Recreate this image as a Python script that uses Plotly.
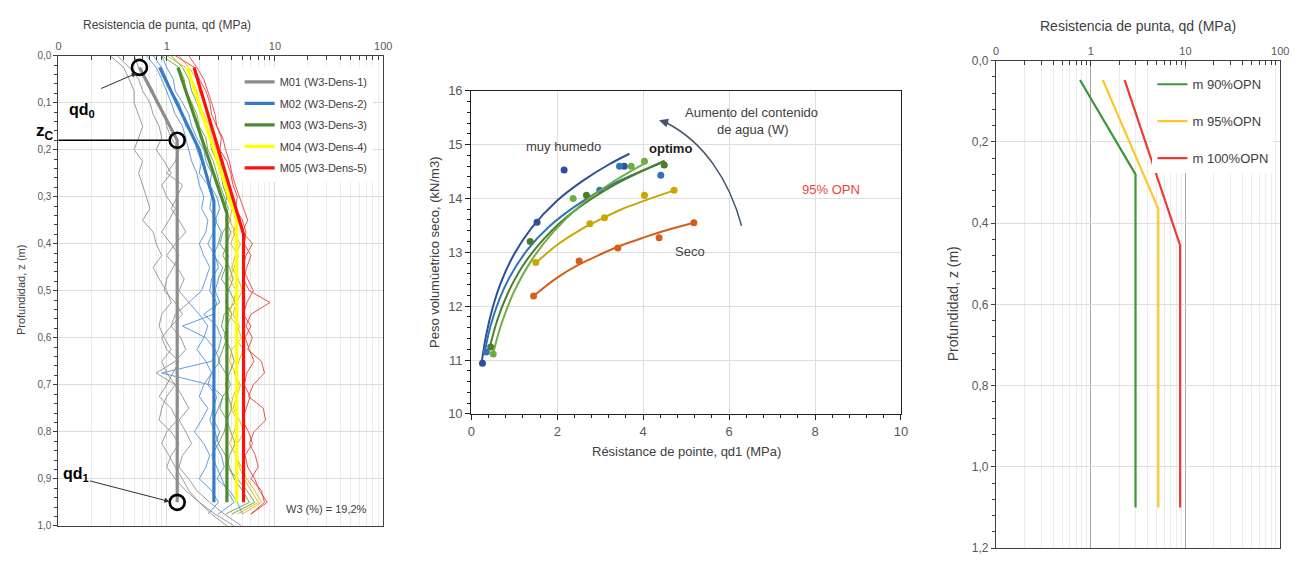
import math
import plotly.graph_objects as go

W, H = 1307, 565
FONT = "Liberation Sans, Arial, sans-serif"
TXT = "#404040"
TICK = "#595959"

# ---------------- Panel 1: dynamic penetrometer profiles (W3 = 19,2 %) ----------------
SERIES_NAMES = ["M01 (W3-Dens-1)", "M02 (W3-Dens-2)", "M03 (W3-Dens-3)",
                "M04 (W3-Dens-4)", "M05 (W3-Dens-5)"]

Z_RAW = [0.0, 0.025, 0.05, 0.075, 0.1, 0.125, 0.15, 0.175, 0.2, 0.225,
         0.25, 0.275, 0.3, 0.325, 0.35, 0.375, 0.4, 0.425, 0.45, 0.475,
         0.5, 0.525, 0.55, 0.575, 0.6, 0.625, 0.65, 0.675, 0.7, 0.725,
         0.75, 0.775, 0.8, 0.825, 0.85, 0.875, 0.9, 0.925, 0.95, 0.975, 1.0]

# individual soundings (qd, MPa) along Z_RAW
RAW_M01 = [
    [0.35, 0.45, 0.55, 0.6, 0.7, 0.75, 0.85, 0.9, 0.8, 0.95, 1.1, 0.9, 1.0, 1.2, 1.05, 0.9, 1.1, 1.3, 1.15, 1.0,
     0.95, 1.2, 1.4, 1.1, 0.9, 1.0, 1.3, 1.15, 1.0, 0.85, 1.1, 1.25, 1.0, 0.9, 1.05, 1.2, 1.4, 1.6, 2.0, 2.6, 3.6],
    [0.5, 0.55, 0.65, 0.75, 0.8, 0.95, 1.0, 1.1, 1.3, 1.2, 1.0, 1.4, 1.25, 1.1, 1.3, 1.5, 1.2, 1.0, 1.25, 1.45,
     1.3, 1.6, 1.2, 1.1, 1.35, 1.5, 1.2, 0.8, 1.2, 1.4, 1.6, 1.3, 1.5, 1.7, 1.4, 1.3, 1.6, 1.9, 2.5, 3.4, 4.9],
    [0.3, 0.4, 0.45, 0.5, 0.5, 0.55, 0.6, 0.55, 0.5, 0.6, 0.55, 0.6, 0.65, 0.7, 0.6, 0.75, 0.8, 0.9, 0.75, 0.85,
     1.0, 1.1, 0.9, 0.85, 0.95, 1.1, 0.9, 1.0, 1.2, 1.0, 0.9, 0.85, 1.1, 1.3, 1.1, 1.0, 1.2, 1.5, 2.0, 2.8, 4.2],
]
RAW_M02 = [
    [0.75, 0.9, 1.0, 1.1, 1.3, 1.4, 1.5, 1.8, 1.9, 2.1, 2.0, 2.4, 2.6, 2.5, 2.9, 2.7, 2.4, 2.8, 3.0, 2.6,
     2.5, 2.9, 2.7, 1.4, 2.3, 2.8, 3.1, 2.6, 2.4, 2.9, 2.7, 2.5, 2.8, 3.0, 2.6, 2.9, 3.2, 3.6, 4.2, 3.0],
    [0.9, 1.0, 1.15, 1.2, 1.4, 1.6, 1.7, 1.9, 2.2, 2.3, 2.6, 2.5, 2.9, 3.1, 2.8, 3.2, 3.0, 2.7, 3.3, 3.0,
     2.8, 3.1, 2.2, 2.9, 3.2, 3.0, 2.6, 0.9, 2.5, 3.3, 3.0, 2.7, 3.1, 2.8, 3.2, 3.4, 2.9, 3.8, 4.5, 5.0],
    [0.65, 0.8, 0.9, 1.0, 1.1, 1.2, 1.4, 1.5, 1.6, 1.7, 1.9, 2.0, 2.2, 2.1, 2.4, 2.3, 2.0, 2.2, 2.5, 2.3,
     2.1, 1.6, 2.0, 2.4, 2.2, 1.9, 2.3, 2.6, 2.2, 2.0, 2.4, 2.1, 1.8, 2.2, 2.5, 2.3, 2.0, 2.6, 3.0, 2.4],
]
RAW_M03 = [
    [0.9, 1.3, 1.45, 1.5, 1.7, 1.9, 2.0, 2.3, 2.4, 2.7, 2.9, 3.1, 3.4, 3.7, 3.5, 3.9, 3.6, 3.3, 3.8, 4.1,
     3.7, 3.5, 4.0, 3.6, 3.4, 3.9, 4.2, 3.8, 3.5, 3.7, 4.0, 3.6, 3.9, 4.3, 3.8, 3.6, 4.5, 5.5, 6.5, 4.0],
    [1.1, 1.4, 1.6, 1.7, 1.9, 2.1, 2.3, 2.5, 2.6, 2.9, 3.2, 3.3, 3.6, 3.4, 3.9, 3.3, 3.1, 3.7, 3.5, 3.2,
     3.8, 4.3, 3.4, 3.2, 3.6, 3.3, 3.0, 3.5, 3.9, 3.3, 3.1, 3.6, 3.4, 3.0, 3.5, 3.8, 4.2, 5.0, 5.8, 3.5],
]
RAW_M04 = [
    [1.0, 1.5, 1.7, 1.9, 2.0, 2.2, 2.5, 2.6, 2.9, 3.1, 3.4, 3.5, 3.9, 4.2, 4.5, 4.1, 4.8, 4.3, 4.0, 4.6,
     5.0, 4.4, 4.1, 4.7, 4.3, 5.1, 4.6, 4.2, 4.8, 4.4, 4.1, 4.7, 5.2, 4.5, 4.3, 4.9, 5.5, 6.5, 7.5, 5.0],
    [1.3, 1.6, 1.9, 2.0, 2.2, 2.4, 2.5, 2.8, 3.0, 3.2, 3.1, 3.7, 3.6, 4.0, 3.8, 4.3, 3.9, 4.6, 4.2, 3.8,
     4.4, 4.1, 3.7, 4.5, 4.9, 4.0, 3.8, 4.3, 4.6, 4.1, 3.9, 4.5, 4.2, 3.8, 4.4, 4.7, 5.2, 6.0, 7.0, 4.5],
]
RAW_M05 = [
    [1.2, 1.8, 2.0, 2.3, 2.5, 2.6, 2.9, 3.2, 3.1, 3.6, 3.9, 4.1, 4.5, 4.3, 5.0, 5.4, 5.2, 6.0, 5.5, 5.1,
     5.8, 9.0, 6.0, 5.4, 6.2, 5.6, 7.5, 8.0, 6.3, 5.7, 7.8, 8.2, 6.4, 5.8, 6.6, 7.0, 6.0, 7.5, 8.0, 6.0],
    [1.6, 1.9, 2.2, 2.4, 2.6, 2.8, 2.9, 3.3, 3.5, 3.8, 4.0, 4.3, 4.7, 5.1, 5.6, 5.0, 6.2, 5.4, 5.0, 5.6,
     6.3, 5.5, 5.1, 6.0, 5.3, 5.8, 6.4, 5.5, 5.2, 5.9, 5.4, 5.0, 5.7, 6.2, 5.3, 5.6, 6.5, 7.2, 8.5, 6.0],
]

# fitted model profiles: (depth, qd) pairs
FIT_Z = [[0.025, 0.18, 0.95],
         [0.025, 0.2, 0.31, 0.95],
         [0.025, 0.335, 0.95],
         [0.025, 0.35, 0.95],
         [0.025, 0.38, 0.95]]
FIT_QD = [[0.56, 1.25, 1.25],
          [0.86, 2.0, 2.73, 2.73],
          [1.27, 3.6, 3.6],
          [1.55, 4.43, 4.43],
          [1.79, 5.13, 5.13]]

# characteristic points of M01
QD0 = 0.56
Z0 = 0.025
ZC = 0.18
QD1 = 1.25
Z1 = 0.95

FIT_COLORS = ["#8c8c8c", "#3a7cc4", "#4f8a2e", "#ffff00", "#ff1010"]
RAW_COLORS = ["#8c8c8c", "#4a8fd6", "#5f9a3c", "#e0b000", "#e8332b"]

# ---------------- Panel 2: dry unit weight vs qd1 ----------------
PT_DBLUE_X = [0.26, 1.53, 2.16, 3.56]
PT_DBLUE_Y = [10.94, 13.56, 14.53, 14.60]
PT_BLUE_X = [0.35, 2.99, 3.45, 4.41]
PT_BLUE_Y = [11.15, 14.15, 14.60, 14.43]
PT_DGREEN_X = [0.45, 1.37, 2.68, 4.49]
PT_DGREEN_Y = [11.24, 13.20, 14.06, 14.62]
PT_GREEN_X = [0.51, 2.37, 3.72, 4.03]
PT_GREEN_Y = [11.11, 14.00, 14.60, 14.69]
PT_YELLOW_X = [1.50, 2.76, 3.10, 4.03, 4.72]
PT_YELLOW_Y = [12.81, 13.53, 13.64, 14.06, 14.15]
PT_ORANGE_X = [1.45, 2.51, 3.41, 4.37, 5.18]
PT_ORANGE_Y = [12.19, 12.84, 13.08, 13.27, 13.55]

CV_DBLUE_X = [0.25, 0.35, 0.5, 0.7, 1.0, 1.4, 2.0, 2.6, 3.2, 3.68]
CV_DBLUE_Y = [11.00, 11.48, 11.98, 12.46, 12.97, 13.45, 13.96, 14.33, 14.63, 14.83]
CV_BLUE_X = [0.3, 0.45, 0.65, 0.9, 1.3, 1.8, 2.5, 3.3, 4.4]
CV_BLUE_Y = [11.10, 11.64, 12.12, 12.55, 13.04, 13.47, 13.90, 14.27, 14.65]
CV_DGREEN_X = [0.42, 0.6, 0.85, 1.2, 1.7, 2.4, 3.3, 4.5]
CV_DGREEN_Y = [11.20, 11.73, 12.24, 12.75, 13.26, 13.77, 14.24, 14.70]
CV_GREEN_X = [0.5, 0.7, 1.0, 1.4, 1.9, 2.6, 3.3, 4.1]
CV_GREEN_Y = [11.10, 11.67, 12.28, 12.85, 13.37, 13.91, 14.31, 14.68]
CV_YELLOW_X = [1.5, 2.0, 2.5, 3.0, 3.5, 4.0, 4.72]
CV_YELLOW_Y = [12.80, 13.14, 13.40, 13.61, 13.80, 13.95, 14.15]
CV_ORANGE_X = [1.45, 2.0, 2.5, 3.0, 3.5, 4.0, 4.5, 5.18]
CV_ORANGE_Y = [12.19, 12.53, 12.77, 12.96, 13.13, 13.27, 13.40, 13.55]

C_DBLUE, C_BLUE, C_DGREEN, C_GREEN, C_YELLOW, C_ORANGE = (
    "#2f4f96", "#2e75b6", "#4e7d2c", "#70ad47", "#c9a600", "#d2601a")

# ---------------- Panel 3: mean profiles by compaction level ----------------
OPN_NAMES = ["m 90%OPN", "m 95%OPN", "m 100%OPN"]
OPN_Z = [[0.048, 0.28, 1.1], [0.048, 0.365, 1.1], [0.048, 0.455, 1.1]]
OPN_QD = [[0.77, 2.97, 2.97], [1.34, 5.17, 5.17], [2.28, 8.78, 8.78]]
OPN_COLORS = ["#3a963a", "#ffc629", "#ee3b36"]

LOG_TICKS = [0.1, 1, 10, 100]
LOG_TICKTEXT = ["0", "1", "10", "100"]
LOG_MINOR = [0.2, 0.3, 0.4, 0.5, 0.6, 0.7, 0.8, 0.9,
             2, 3, 4, 5, 6, 7, 8, 9, 20, 30, 40, 50, 60, 70, 80, 90]


def px_x(p):
    """pixel column -> paper fraction"""
    return p / W


def px_y(p):
    """pixel row -> paper fraction"""
    return 1 - p / H


fig = go.Figure()

# panel 1 raw soundings
for k, group in enumerate([RAW_M01, RAW_M02, RAW_M03, RAW_M04, RAW_M05]):
    for vals in group:
        fig.add_trace(go.Scatter(
            x=vals, y=Z_RAW[:len(vals)], mode="lines", xaxis="x", yaxis="y",
            line=dict(color=RAW_COLORS[k], width=1), opacity=0.85,
            showlegend=False, hoverinfo="skip"))

# panel 1 fitted profiles
for k, name in enumerate(SERIES_NAMES):
    fig.add_trace(go.Scatter(
        x=FIT_QD[k], y=FIT_Z[k], mode="lines", xaxis="x", yaxis="y",
        name=name, legend="legend", legendgroup=name,
        line=dict(color=FIT_COLORS[k], width=3.2)))

# characteristic points qd0, zc, qd1
fig.add_trace(go.Scatter(
    x=[QD0, QD1, QD1], y=[Z0, ZC, Z1], mode="markers", xaxis="x", yaxis="y",
    marker=dict(symbol="circle-open", size=15, color="black", line=dict(width=2.6)),
    showlegend=False, hoverinfo="skip"))

# panel 2 curves and points
for cx, cy, px, py, col in [
        (CV_DBLUE_X, CV_DBLUE_Y, PT_DBLUE_X, PT_DBLUE_Y, C_DBLUE),
        (CV_BLUE_X, CV_BLUE_Y, PT_BLUE_X, PT_BLUE_Y, C_BLUE),
        (CV_DGREEN_X, CV_DGREEN_Y, PT_DGREEN_X, PT_DGREEN_Y, C_DGREEN),
        (CV_GREEN_X, CV_GREEN_Y, PT_GREEN_X, PT_GREEN_Y, C_GREEN),
        (CV_YELLOW_X, CV_YELLOW_Y, PT_YELLOW_X, PT_YELLOW_Y, C_YELLOW),
        (CV_ORANGE_X, CV_ORANGE_Y, PT_ORANGE_X, PT_ORANGE_Y, C_ORANGE)]:
    fig.add_trace(go.Scatter(x=cx, y=cy, mode="lines", xaxis="x2", yaxis="y2",
                             line=dict(color=col, width=2, shape="spline"),
                             showlegend=False, hoverinfo="skip"))
    fig.add_trace(go.Scatter(x=px, y=py, mode="markers", xaxis="x2", yaxis="y2",
                             marker=dict(color=col, size=7),
                             showlegend=False))

# panel 3 profiles
for k, name in enumerate(OPN_NAMES):
    fig.add_trace(go.Scatter(
        x=OPN_QD[k], y=OPN_Z[k], mode="lines", xaxis="x3", yaxis="y3",
        name=name, legend="legend2", legendgroup=name,
        line=dict(color=OPN_COLORS[k], width=2.2)))


def log_axis(domain, anchor, minor_grid, major_grid):
    return dict(
        type="log", range=[-1, 2], domain=domain, anchor=anchor, side="top",
        tickmode="array", tickvals=LOG_TICKS, ticktext=LOG_TICKTEXT,
        showline=True, linecolor="#404040", linewidth=1.2, mirror=True,
        ticks="inside", ticklen=5, tickcolor="#404040",
        showgrid=True, gridcolor=major_grid, gridwidth=1,
        minor=dict(tickvals=LOG_MINOR, ticks="inside", ticklen=4, tickcolor="#404040",
                   showgrid=True, gridcolor=minor_grid),
        zeroline=False, tickfont=dict(size=11, color=TICK))


fig.update_layout(
    width=W, height=H, margin=dict(l=0, r=0, t=0, b=0),
    paper_bgcolor="white", plot_bgcolor="white",
    font=dict(family=FONT, color=TXT), separators=",.",
    xaxis=log_axis([px_x(55), px_x(383)], "y", "#ececec", "#dcdcdc"),
    yaxis=dict(domain=[px_y(533), px_y(50)], anchor="x", range=[1.0, 0.0],
               dtick=0.1, tick0=0, tickformat=".1f",
               showline=True, linecolor="#404040", linewidth=1.2, mirror=True,
               ticks="outside", ticklen=4, tickcolor="#404040",
               minor=dict(dtick=0.02, ticks="outside", ticklen=3, tickcolor="#404040"),
               showgrid=True, gridcolor="#dcdcdc", zeroline=False,
               tickfont=dict(size=10, color=TICK)),
    xaxis2=dict(domain=[px_x(472), px_x(906)], anchor="y2", range=[0, 10], dtick=2,
                showline=True, linecolor="#202020", linewidth=1.2, mirror=True,
                ticks="outside", ticklen=5, tickcolor="#202020",
                minor=dict(dtick=0.4, ticks="outside", ticklen=3, tickcolor="#202020"),
                showgrid=True, gridcolor="#dedede", zeroline=False,
                tickfont=dict(size=13, color=TICK)),
    yaxis2=dict(domain=[px_y(418), px_y(86)], anchor="x2", range=[10, 16], dtick=1,
                showline=True, linecolor="#202020", linewidth=1.2, mirror=True,
                ticks="outside", ticklen=5, tickcolor="#202020",
                minor=dict(dtick=0.2, ticks="outside", ticklen=3, tickcolor="#202020"),
                showgrid=True, gridcolor="#dedede", zeroline=False,
                tickfont=dict(size=13, color=TICK)),
    xaxis3=log_axis([px_x(1002), px_x(1289)], "y3", "#ececec", "#a6a6a6"),
    yaxis3=dict(domain=[px_y(556), px_y(55)], anchor="x3", range=[1.2, 0.0],
                dtick=0.2, tick0=0, tickformat=".1f",
                showline=True, linecolor="#404040", linewidth=1.2, mirror=True,
                ticks="outside", ticklen=4, tickcolor="#404040",
                minor=dict(dtick=0.04, ticks="outside", ticklen=3, tickcolor="#404040"),
                showgrid=True, gridcolor="#dedede", zeroline=False,
                tickfont=dict(size=12, color=TICK)),
    legend=dict(x=px_x(238), y=px_y(62), xanchor="left", yanchor="top",
                bgcolor="white", borderwidth=0, font=dict(size=11, color=TXT),
                tracegroupgap=2.5, itemwidth=30),
    legend2=dict(x=px_x(1160), y=px_y(64), xanchor="left", yanchor="top",
                 bgcolor="white", borderwidth=0, font=dict(size=13, color=TXT),
                 tracegroupgap=17, itemwidth=30),
)

# log-axis position of the zc point within panel 1
zc_dom = (math.log10(QD1) + 1) / 3


def label(xp, yp, text, size, color=TXT, angle=0):
    """centred free text placed in pixel coordinates"""
    return dict(x=px_x(xp), y=px_y(yp), xref="paper", yref="paper",
                xanchor="center", yanchor="middle", text=text, textangle=angle,
                font=dict(size=size, color=color), showarrow=False)


def note(x, y, text, size, color=TXT):
    """centred text in panel 2 data coordinates"""
    return dict(x=x, y=y, xref="x2", yref="y2", xanchor="center", yanchor="middle",
                text=text, font=dict(size=size, color=color), showarrow=False)


annotations = [
    # panel 1 titles and labels
    label(165, 18, "Resistencia de punta, qd (MPa)", 12),
    label(17, 291, "Profundidad, z (m)", 11, angle=-90),
    label(79, 106, "<b>qd<sub>0</sub></b>", 16, "black"),
    label(41, 128, "<b>z<sub>C</sub></b>", 17, "black"),
    label(73, 480, "<b>qd<sub>1</sub></b>", 16, "black"),
    dict(x=px_x(134), y=px_y(68), ax=-37, ay=16, xref="paper", yref="paper",
         axref="pixel", ayref="pixel", text="", showarrow=True, arrowhead=2,
         arrowsize=1, arrowwidth=1, arrowcolor="#303030"),
    dict(x=px_x(167), y=px_y(508), ax=-81, ay=-21, xref="paper", yref="paper",
         axref="pixel", ayref="pixel", text="", showarrow=True, arrowhead=2,
         arrowsize=1, arrowwidth=1, arrowcolor="#303030"),
    label(326, 516, "W3 (%) = 19,2%", 11),
    # panel 2
    label(689, 457, "Résistance de pointe, qd1 (MPa)", 13),
    label(435, 252, "Peso volumùetrico seco, (kN/m3)", 13, angle=-90),
    note(2.14, 14.97, "muy humedo", 13),
    note(4.63, 14.93, "<b>optimo</b>", 13, "#202020"),
    note(6.52, 15.60, "Aumento del contenido", 13),
    note(6.55, 15.28, "de agua (W)", 13),
    note(8.36, 14.17, "95% OPN", 13, "#e8453c"),
    note(5.09, 13.02, "Seco", 13),
    dict(x=4.37, y=15.45, ax=4.62, ay=15.39, xref="x2", yref="y2",
         axref="x2", ayref="y2", text="", showarrow=True, arrowhead=2,
         arrowsize=1.2, arrowwidth=1.5, arrowcolor="#44546a"),
    # panel 3
    label(1145, 20, "Resistencia de punta, qd (MPa)", 14),
    label(958, 305, "Profundidad, z (m)", 14, angle=-90),
]
fig.update_layout(annotations=annotations)

shapes = [
    # zc reference line, from the depth axis to the zc point
    dict(type="line", xref="x domain", yref="y", x0=0, x1=zc_dom - 0.02,
         y0=ZC, y1=ZC, line=dict(color="black", width=1.6)),
    # water-content arrow
    dict(type="path", xref="x2", yref="y2",
         path="M 6.29,13.49 C 6.0,14.35 5.4,15.05 4.55,15.40",
         line=dict(color="#44546a", width=1.5)),
]
fig.update_layout(shapes=shapes)

fig.write_html("out.html")
